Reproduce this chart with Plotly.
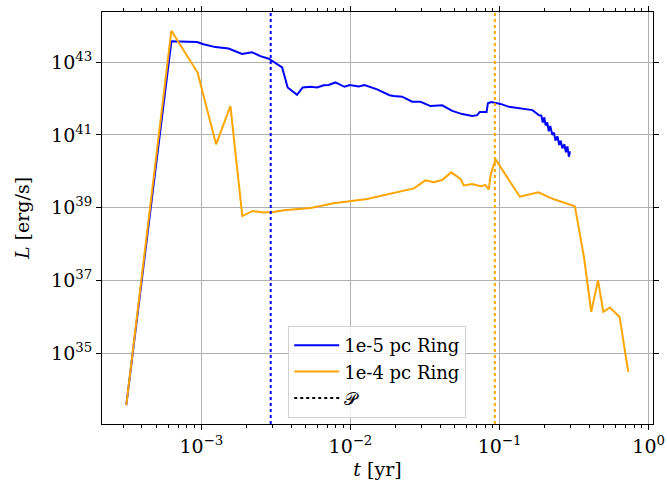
import plotly.graph_objects as go

# Data
t_ring5 = [3.14e-4, 6.30e-4, 9.35e-4, 1.035e-3, 1.242e-3, 1.524e-3, 1.875e-3, 2.188e-3,
           2.489e-3, 2.831e-3, 3.483e-3, 3.793e-3, 4.385e-3, 4.786e-3, 5.395e-3, 5.970e-3,
           6.622e-3, 7.145e-3, 7.925e-3, 9.120e-3, 9.886e-3, 1.138e-2, 1.242e-2, 1.510e-2,
           1.828e-2, 1.954e-2, 2.223e-2, 2.594e-2, 2.951e-2, 3.443e-2, 4.121e-2, 4.819e-2,
           5.623e-2, 6.561e-2, 7.079e-2, 7.379e-2, 8.185e-2, 8.356e-2, 8.790e-2, 9.397e-2,
           0.1016, 0.1156, 0.1384, 0.1663, 0.1841, 0.1905, 0.1950, 0.1995, 0.2037, 0.2089,
           0.2138, 0.2188, 0.2259, 0.2317, 0.2371, 0.2443, 0.2512, 0.2570, 0.2636, 0.2723,
           0.2786, 0.2851, 0.2917, 0.2965]
L_ring5 = [3.8e33, 3.72e43, 3.55e43, 3.09e43, 2.57e43, 2.34e43, 1.66e43, 1.86e43,
           1.45e43, 1.23e43, 7.08e42, 2.00e42, 1.26e42, 2.00e42, 2.09e42, 2.00e42,
           2.29e42, 2.34e42, 2.75e42, 2.09e42, 2.34e42, 2.14e42, 2.34e42, 1.78e42,
           1.23e42, 1.17e42, 1.12e42, 8.13e41, 8.13e41, 6.17e41, 6.46e41, 4.57e41,
           3.72e41, 3.31e41, 3.47e41, 4.27e41, 4.27e41, 7.41e41, 7.94e41, 7.41e41,
           7.08e41, 5.89e41, 5.37e41, 4.79e41, 3.47e41, 3.39e41, 2.19e41, 3.02e41, 1.82e41, 2.19e41,
           1.26e41, 1.74e41, 1.00e41, 1.15e41, 6.92e40, 9.12e40, 5.25e40, 6.92e40, 4.27e40, 5.50e40,
           3.31e40, 4.79e40, 2.51e40, 3.55e40]

t_ring4 = [3.14e-4, 6.30e-4, 9.44e-4, 1.256e-3, 1.567e-3, 1.884e-3, 2.208e-3, 2.618e-3,
           3.055e-3, 3.565e-3, 5.395e-3, 7.727e-3, 1.294e-2, 1.854e-2, 2.661e-2, 3.184e-2,
           3.622e-2, 4.121e-2, 4.742e-2, 5.470e-2, 5.754e-2, 6.561e-2, 7.447e-2, 8.054e-2,
           8.472e-2, 8.710e-2, 9.397e-2, 0.1368, 0.1820, 0.2312, 0.3199, 0.3681, 0.4121,
           0.4571, 0.4966, 0.5495, 0.6383, 0.7295]
L_ring4 = [3.8e33, 7.24e43, 5.13e42, 5.50e40, 6.17e41, 5.89e38, 8.13e38, 7.41e38,
           7.59e38, 8.51e38, 9.77e38, 1.32e39, 1.74e39, 2.45e39, 3.39e39, 5.62e39,
           5.01e39, 5.75e39, 9.33e39, 6.17e39, 4.07e39, 4.47e39, 3.89e39, 4.17e39,
           3.16e39, 7.94e39, 2.14e40, 2.00e39, 2.63e39, 1.70e39, 1.10e39, 4.47e37, 1.38e36,
           1.02e37, 1.38e36, 1.82e36, 1.00e36, 3.09e34]

P_ring5 = 2.92e-3
P_ring4 = 0.093

names = ["1e-5 pc Ring", "1e-4 pc Ring", "𝒫"]
colors = ["#0000ff", "#ffa500", "black"]

x_tickvals = [1e-3, 1e-2, 1e-1, 1e0]
x_ticktext = ["10<sup>−3</sup>", "10<sup>−2</sup>", "10<sup>−1</sup>", "10<sup>0</sup>"]
y_tickvals = [1e35, 1e37, 1e39, 1e41, 1e43]
y_ticktext = ["10<sup>35</sup>", "10<sup>37</sup>", "10<sup>39</sup>", "10<sup>41</sup>", "10<sup>43</sup>"]

x_range_log = [-3.666, 0.029]
y_range_log = [33.06, 44.374]

fig = go.Figure()
fig.add_trace(go.Scatter(x=t_ring5, y=L_ring5, mode="lines", name=names[0],
                         line=dict(color=colors[0], width=2)))
fig.add_trace(go.Scatter(x=t_ring4, y=L_ring4, mode="lines", name=names[1],
                         line=dict(color=colors[1], width=2)))
fig.add_trace(go.Scatter(x=[None], y=[None], mode="lines", name=names[2],
                         line=dict(color=colors[2], width=2, dash="dot")))

for xv, c in [(P_ring5, colors[0]), (P_ring4, colors[1])]:
    fig.add_shape(type="line", xref="x", yref="paper", x0=xv, x1=xv, y0=0, y1=1,
                  line=dict(color=c, width=2, dash="dot"), layer="above")

font_family = "DejaVu Serif"
fig.update_layout(
    width=667, height=487,
    margin=dict(l=102, r=14, t=12, b=63, autoexpand=False),
    paper_bgcolor="white", plot_bgcolor="white",
    font=dict(family=font_family, size=19, color="black"),
    showlegend=True,
    legend=dict(x=0.338, y=0.238, xanchor="left", yanchor="top",
                bgcolor="rgba(255,255,255,0.8)", bordercolor="#d0d0d0", borderwidth=1,
                font=dict(family=font_family, size=18), tracegroupgap=0,
                itemwidth=45),
)
fig.update_xaxes(
    type="log", range=x_range_log, automargin=False,
    tickvals=x_tickvals, ticktext=x_ticktext,
    showgrid=True, gridcolor="#b0b0b0", gridwidth=1,
    showline=True, linecolor="black", linewidth=1, mirror="allticks",
    ticks="outside", ticklen=5, tickcolor="black",
    minor=dict(ticks="outside", ticklen=3, tickcolor="black", dtick="D1", showgrid=False),
    title=dict(text="<i>t</i> [yr]", font=dict(size=19), standoff=6),
    zeroline=False,
)
fig.update_yaxes(
    type="log", range=y_range_log, automargin=False,
    tickvals=y_tickvals, ticktext=y_ticktext,
    showgrid=True, gridcolor="#b0b0b0", gridwidth=1,
    showline=True, linecolor="black", linewidth=1, mirror="allticks",
    ticks="outside", ticklen=5, tickcolor="black",
    title=dict(text="<i>L</i> [erg/s]", font=dict(size=19), standoff=16),
    zeroline=False,
)

fig.write_html("out.html")
